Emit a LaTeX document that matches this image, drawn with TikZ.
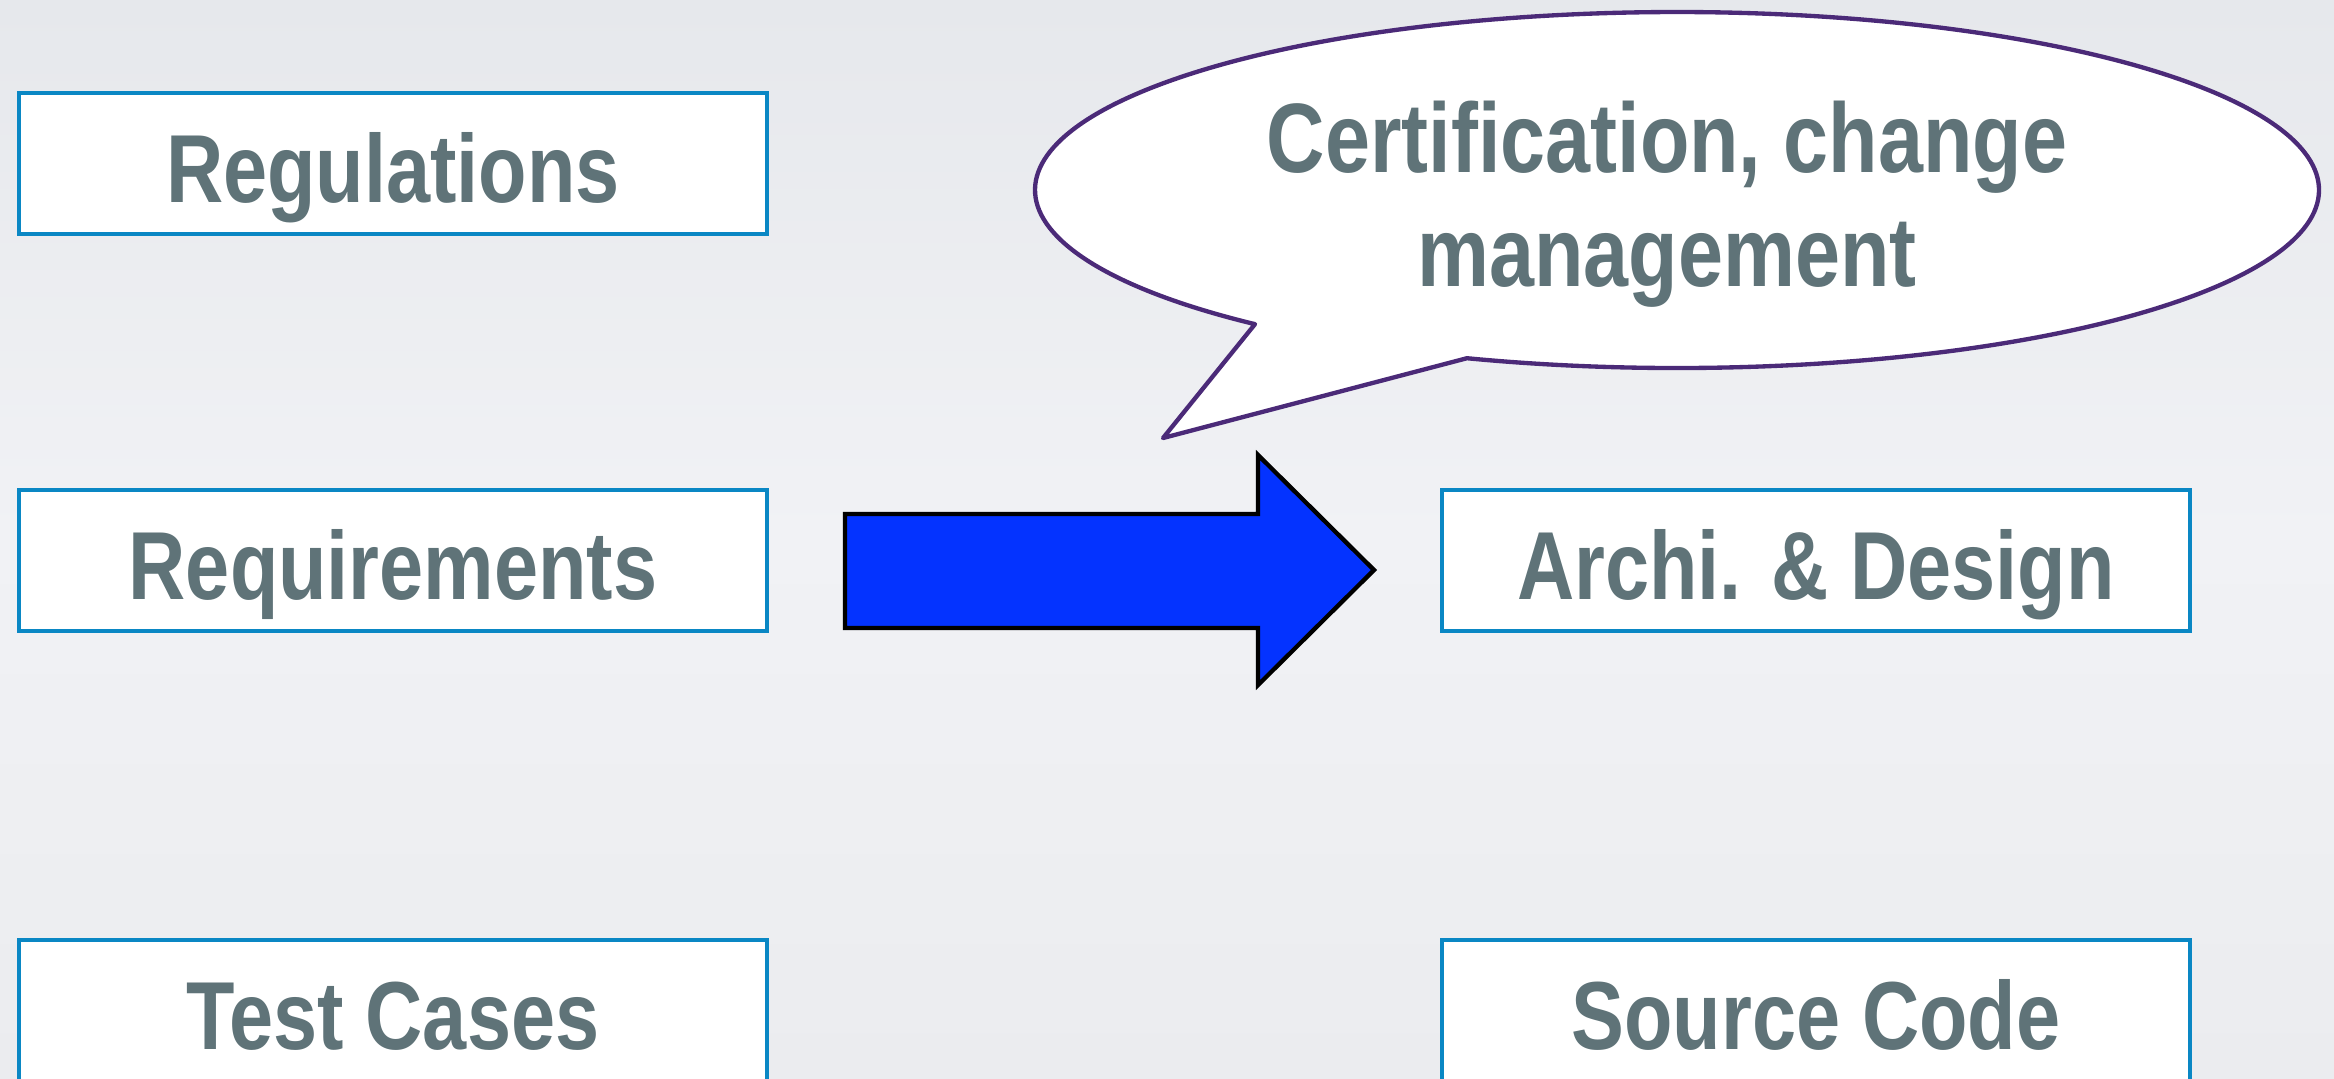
\documentclass[tikz,border=0pt]{standalone}
\usepackage{fontspec}
\usetikzlibrary{calc}
\setmainfont{Liberation Sans}[FakeStretch=0.82]
\definecolor{bgtop}{HTML}{E6E8EC}
\definecolor{bgmid}{HTML}{F1F2F5}
\definecolor{bgbot}{HTML}{EBECEF}
\definecolor{boxblue}{HTML}{0A87C4}
\definecolor{txtgray}{HTML}{5F7378}
\definecolor{calloutpurple}{HTML}{4B2A78}
\definecolor{arrowblue}{HTML}{0433FF}
\tikzset{
  stagebox/.style={draw=boxblue, line width=1.35pt, fill=white, rectangle,
    minimum width=224.4pt, minimum height=42.3pt, inner sep=0pt,
    text height=23.1pt, text depth=0pt, text=txtgray,
    font=\bfseries\fontsize{29}{34}\selectfont},
  calloutshape/.style={draw=calloutpurple, line width=1.3pt, fill=white, line join=round},
  callouttext/.style={text=txtgray, align=center, inner sep=0pt,
    font=\bfseries\fontsize{29.6}{34.2}\selectfont},
  bigarrow/.style={draw=black, line width=1.3pt, fill=arrowblue, line join=miter}
}
\begin{document}
\begin{tikzpicture}[x=0.3pt,y=-0.3pt]
\useasboundingbox (0,0) rectangle (2334,1078);
\clip (0,0) rectangle (2334,1078);
\shade[top color=bgtop, bottom color=bgbot, middle color=bgmid] (0,0) rectangle (2334,1078);

% boxes
\node[stagebox] (reg) at (393,163.5) {Regulations};
\node[stagebox] (req) at (393,560.5) {Requirements};
\node[stagebox] (tst) at (393,1010.5) {Test Cases};
\node[stagebox] (arc) at (1816,560.5) {Archi. \& Design};
\node[stagebox] (src) at (1816,1010.5) {Source Code};

% big arrow
\draw[bigarrow] (845,514) -- (1258,514) -- (1258,455) -- (1374,570)
  -- (1258,685) -- (1258,628) -- (845,628) -- cycle;

% callout
\coordinate (cc) at (1677,190);
\coordinate (p1) at ($(cc)+(131.1:642 and 178)$);
\coordinate (tip) at (1163,438);
\draw[calloutshape] (p1) arc[start angle=131.1, end angle=469.1, x radius=642, y radius=178]
  -- (tip) -- cycle;
\node[callouttext] (ctext) at (1667,204.5) {Certification, change\\management};
\end{tikzpicture}
\end{document}
